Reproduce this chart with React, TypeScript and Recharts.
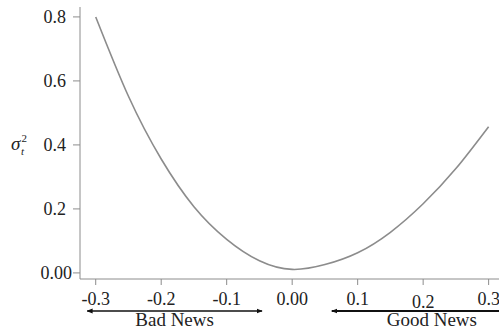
import React from "react";
import { LineChart, Line, XAxis, YAxis } from "recharts";

// news impact: shock vs conditional variance
const shocks = [-0.3, -0.25, -0.2, -0.15, -0.1, -0.05, 0, 0.05, 0.1, 0.15, 0.2, 0.25, 0.3];
const variance = [0.8, 0.552, 0.356, 0.207, 0.105, 0.038, 0.011, 0.026, 0.063, 0.127, 0.216, 0.326, 0.457];

const xTicks = [-0.3, -0.2, -0.1, 0, 0.1, 0.2, 0.3];
const yTicks = [0, 0.2, 0.4, 0.6, 0.8];
const xDomain: [number, number] = [-0.324, 0.325];
const yDomain: [number, number] = [-0.019, 0.831];

const newsLabels = [
  { text: "Bad News", from: -0.313, to: -0.046, w: 1.3 },
  { text: "Good News", from: 0.0605, to: 0.366, w: 2 },
];

const data = shocks.map((s, i) => ({ shock: s, v: variance[i] }));

const GRAY = "#8c8c8c";
const FONT = "Liberation Serif";
const serif = { fontFamily: FONT };

const fmt = (v: number) => (v === 0 ? "0.00" : v.toFixed(1));

const XTick = (props: any) => {
  const { x, y, payload } = props;
  const drop = payload.value === 0.2 ? 3 : 0;
  return (
    <text x={x} y={y + drop} dy="0.71em" textAnchor="middle" fontSize={18} style={serif} fill="#222">
      {fmt(payload.value)}
    </text>
  );
};

const YTick = (props: any) => {
  const { x, y, payload } = props;
  const shift = payload.value === 0 ? 0 : -6;
  return (
    <text x={x + shift} y={y} dy="0.34em" textAnchor="end" fontSize={18} style={serif} fill="#222">
      {fmt(payload.value)}
    </text>
  );
};

const YLabel = (props: any) => {
  const { viewBox } = props;
  const cy = viewBox.y + viewBox.height * ((yDomain[1] - 0.4) / (yDomain[1] - yDomain[0]));
  return (
    <text x={11} y={cy + 5} style={serif} fill="#222" fontSize={19}>
      <tspan fontStyle="italic">σ</tspan>
      <tspan fontSize={11} dx={1} dy={-8}>2</tspan>
      <tspan fontSize={11} fontStyle="italic" dx={-6} dy={13}>t</tspan>
    </text>
  );
};

const NewsArrows = (props: any) => {
  const { viewBox } = props;
  const sx = (v: number) => viewBox.x + ((v - xDomain[0]) / (xDomain[1] - xDomain[0])) * viewBox.width;
  const ay = viewBox.y + 32;
  return (
    <g>
      <defs>
        <marker id="head" viewBox="0 0 10 10" refX="9" refY="5" markerWidth="6" markerHeight="6"
          markerUnits="userSpaceOnUse" orient="auto-start-reverse">
          <path d="M0,1 L10,5 L0,9 z" fill="#111" />
        </marker>
      </defs>
      {newsLabels.map((n) => (
        <g key={n.text}>
          <line x1={sx(n.from)} y1={ay} x2={sx(n.to)} y2={ay} stroke="#111" strokeWidth={n.w}
            markerStart="url(#head)" markerEnd="url(#head)" />
          <text x={(sx(n.from) + sx(n.to)) / 2} y={ay + 15} textAnchor="middle" fontSize={19} style={serif} fill="#222">
            {n.text}
          </text>
        </g>
      ))}
    </g>
  );
};

export default function App() {
  return (
    <div style={{ position: "absolute", left: 0, top: 0, width: 499, height: 329, overflow: "hidden", background: "#fff", fontFamily: FONT }}>
      <LineChart width={520} height={329} data={data} margin={{ top: 7, right: 15, left: 0, bottom: 0 }}>
        <XAxis
          dataKey="shock"
          type="number"
          domain={xDomain}
          allowDataOverflow
          ticks={xTicks}
          interval={0}
          height={50}
          tickSize={6}
          tickMargin={7}
          stroke={GRAY}
          tick={<XTick />}
          label={<NewsArrows />}
        />
        <XAxis xAxisId="top" orientation="top" type="number" domain={xDomain} height={0} tick={false} tickLine={false} stroke={GRAY} />
        <YAxis
          type="number"
          domain={yDomain}
          allowDataOverflow
          ticks={yTicks}
          interval={0}
          width={80}
          tickSize={7}
          tickMargin={1}
          stroke={GRAY}
          tick={<YTick />}
          label={<YLabel />}
        />
        <Line type="natural" dataKey="v" stroke={GRAY} strokeWidth={1.6} dot={false} isAnimationActive={false} />
      </LineChart>
    </div>
  );
}
